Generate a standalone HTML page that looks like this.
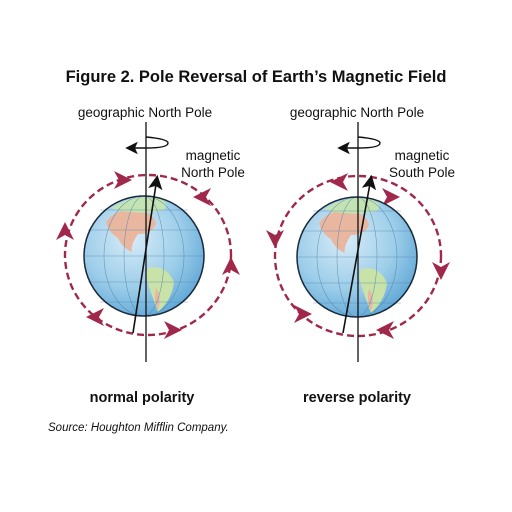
<!DOCTYPE html>
<html><head><meta charset="utf-8"><style>
html,body{margin:0;padding:0;background:#fff}
svg{display:block;font-family:"Liberation Sans",Arial,sans-serif}
</style></head><body>
<svg width="512" height="512" viewBox="0 0 512 512">
<defs>
<radialGradient id="g" cx="40%" cy="35%" r="70%">
<stop offset="0" stop-color="#d8ecf8"/><stop offset="0.6" stop-color="#9ccde9"/><stop offset="1" stop-color="#5ea6d6"/>
</radialGradient>
<marker id="ah" markerWidth="9" markerHeight="9" refX="7" refY="4.5" orient="auto"><path d="M0,0 L9,4.5 L0,9 L2,4.5 z" fill="#111"/></marker>
</defs>
<text x="256" y="82" text-anchor="middle" font-size="16.5" font-weight="bold" fill="#111">Figure 2. Pole Reversal of Earth’s Magnetic Field</text>

<g id="left">
<g fill="none" stroke="#a0284a" stroke-width="2.4" stroke-dasharray="7,4">
<ellipse cx="148" cy="255" rx="83" ry="80"/>
</g>
<g fill="#a0284a">
<path d="M132,180 l-18,-9 l5,9 l-5,9z"/>
<path d="M193,197 l18,-9 l-5,9 l5,9z"/>
<path d="M65,222 l-9,18 l9,-5 l9,5z"/>
<path d="M231,257 l-9,18 l9,-5 l9,5z"/>
<path d="M86,317 l18,-9 l-5,9 l5,9z"/>
<path d="M182,330 l-18,-9 l5,9 l-5,9z"/>
</g>
<g>
<circle cx="144" cy="256" r="60" fill="url(#g)"/>
<path d="M106,222 q10,-14 30,-12 q18,2 20,14 q-4,10 -18,10 q-8,12 -6,18 q-10,-4 -14,-14 q-10,-6 -12,-16z" fill="#e9b7a0"/>
<path d="M112,208 q20,-14 46,-10 q12,4 6,12 q-18,4 -32,2 q-12,0 -20,-4z" fill="#c4e3b2"/>
<path d="M148,268 q18,-4 26,14 q-2,18 -16,30 q-6,-16 -10,-28 q-3,-10 0,-16z" fill="#c8e2a8"/>
<path d="M156,288 q6,8 2,22 q-5,-10 -2,-22z" fill="#e9b7a0"/>
<g stroke="#4a7ea8" stroke-width="0.6" fill="none" opacity="0.7">
<ellipse cx="144" cy="256" rx="20" ry="60"/><ellipse cx="144" cy="256" rx="40" ry="60"/>
<line x1="84" y1="256" x2="204" y2="256"/><line x1="88" y1="230" x2="200" y2="230"/><line x1="88" y1="282" x2="200" y2="282"/><line x1="100" y1="210" x2="188" y2="210"/><line x1="100" y1="302" x2="188" y2="302"/>
</g>
<circle cx="144" cy="256" r="60" fill="none" stroke="#1a2a3a" stroke-width="1.5"/>
</g>
<line x1="146" y1="122" x2="146" y2="362" stroke="#111" stroke-width="1.3"/>
<path d="M146,137 q22,2 22,6 q0,5 -22,5 l-18,0" fill="none" stroke="#111" stroke-width="1.4" marker-end="url(#ah)"/>
<line x1="133" y1="333" x2="157" y2="178" stroke="#111" stroke-width="1.6" marker-end="url(#ah)"/>
<text x="145" y="117" text-anchor="middle" font-size="13.5" fill="#111">geographic North Pole</text>
<text x="213" y="160" text-anchor="middle" font-size="13.5" fill="#111"><tspan x="213">magnetic</tspan><tspan x="213" dy="17">North Pole</tspan></text>
<text x="142" y="402" text-anchor="middle" font-size="14.5" font-weight="bold" fill="#111">normal polarity</text>
</g>

<g id="right">
<g fill="none" stroke="#a0284a" stroke-width="2.4" stroke-dasharray="7,4">
<ellipse cx="358" cy="256" rx="83" ry="80"/>
</g>
<g fill="#a0284a">
<path d="M330,182 l18,-9 l-5,9 l5,9z"/>
<path d="M400,197 l-18,-9 l5,9 l-5,9z"/>
<path d="M275,248 l-9,-18 l9,5 l9,-5z"/>
<path d="M441,280 l-9,-18 l9,5 l9,-5z"/>
<path d="M312,314 l-18,-9 l5,9 l-5,9z"/>
<path d="M376,330 l18,-9 l-5,9 l5,9z"/>
</g>
<g>
<circle cx="357" cy="257" r="60" fill="url(#g)"/>
<path d="M319,223 q10,-14 30,-12 q18,2 20,14 q-4,10 -18,10 q-8,12 -6,18 q-10,-4 -14,-14 q-10,-6 -12,-16z" fill="#e9b7a0"/>
<path d="M325,209 q20,-14 46,-10 q12,4 6,12 q-18,4 -32,2 q-12,0 -20,-4z" fill="#c4e3b2"/>
<path d="M361,269 q18,-4 26,14 q-2,18 -16,30 q-6,-16 -10,-28 q-3,-10 0,-16z" fill="#c8e2a8"/>
<path d="M369,289 q6,8 2,22 q-5,-10 -2,-22z" fill="#e9b7a0"/>
<g stroke="#4a7ea8" stroke-width="0.6" fill="none" opacity="0.7">
<ellipse cx="357" cy="257" rx="20" ry="60"/><ellipse cx="357" cy="257" rx="40" ry="60"/>
<line x1="297" y1="257" x2="417" y2="257"/><line x1="301" y1="231" x2="413" y2="231"/><line x1="301" y1="283" x2="413" y2="283"/><line x1="313" y1="211" x2="401" y2="211"/><line x1="313" y1="303" x2="401" y2="303"/>
</g>
<circle cx="357" cy="257" r="60" fill="none" stroke="#1a2a3a" stroke-width="1.5"/>
</g>
<line x1="358" y1="122" x2="358" y2="362" stroke="#111" stroke-width="1.3"/>
<path d="M358,137 q22,2 22,6 q0,5 -22,5 l-18,0" fill="none" stroke="#111" stroke-width="1.4" marker-end="url(#ah)"/>
<line x1="343" y1="333" x2="371" y2="178" stroke="#111" stroke-width="1.6" marker-end="url(#ah)"/>
<text x="357" y="117" text-anchor="middle" font-size="13.5" fill="#111">geographic North Pole</text>
<text x="422" y="160" text-anchor="middle" font-size="13.5" fill="#111"><tspan x="422">magnetic</tspan><tspan x="422" dy="17">South Pole</tspan></text>
<text x="357" y="402" text-anchor="middle" font-size="14.5" font-weight="bold" fill="#111">reverse polarity</text>
</g>

<text x="48" y="431" font-size="11.5" font-style="italic" fill="#111">Source: Houghton Mifflin Company.</text>
</svg>
</body></html>
